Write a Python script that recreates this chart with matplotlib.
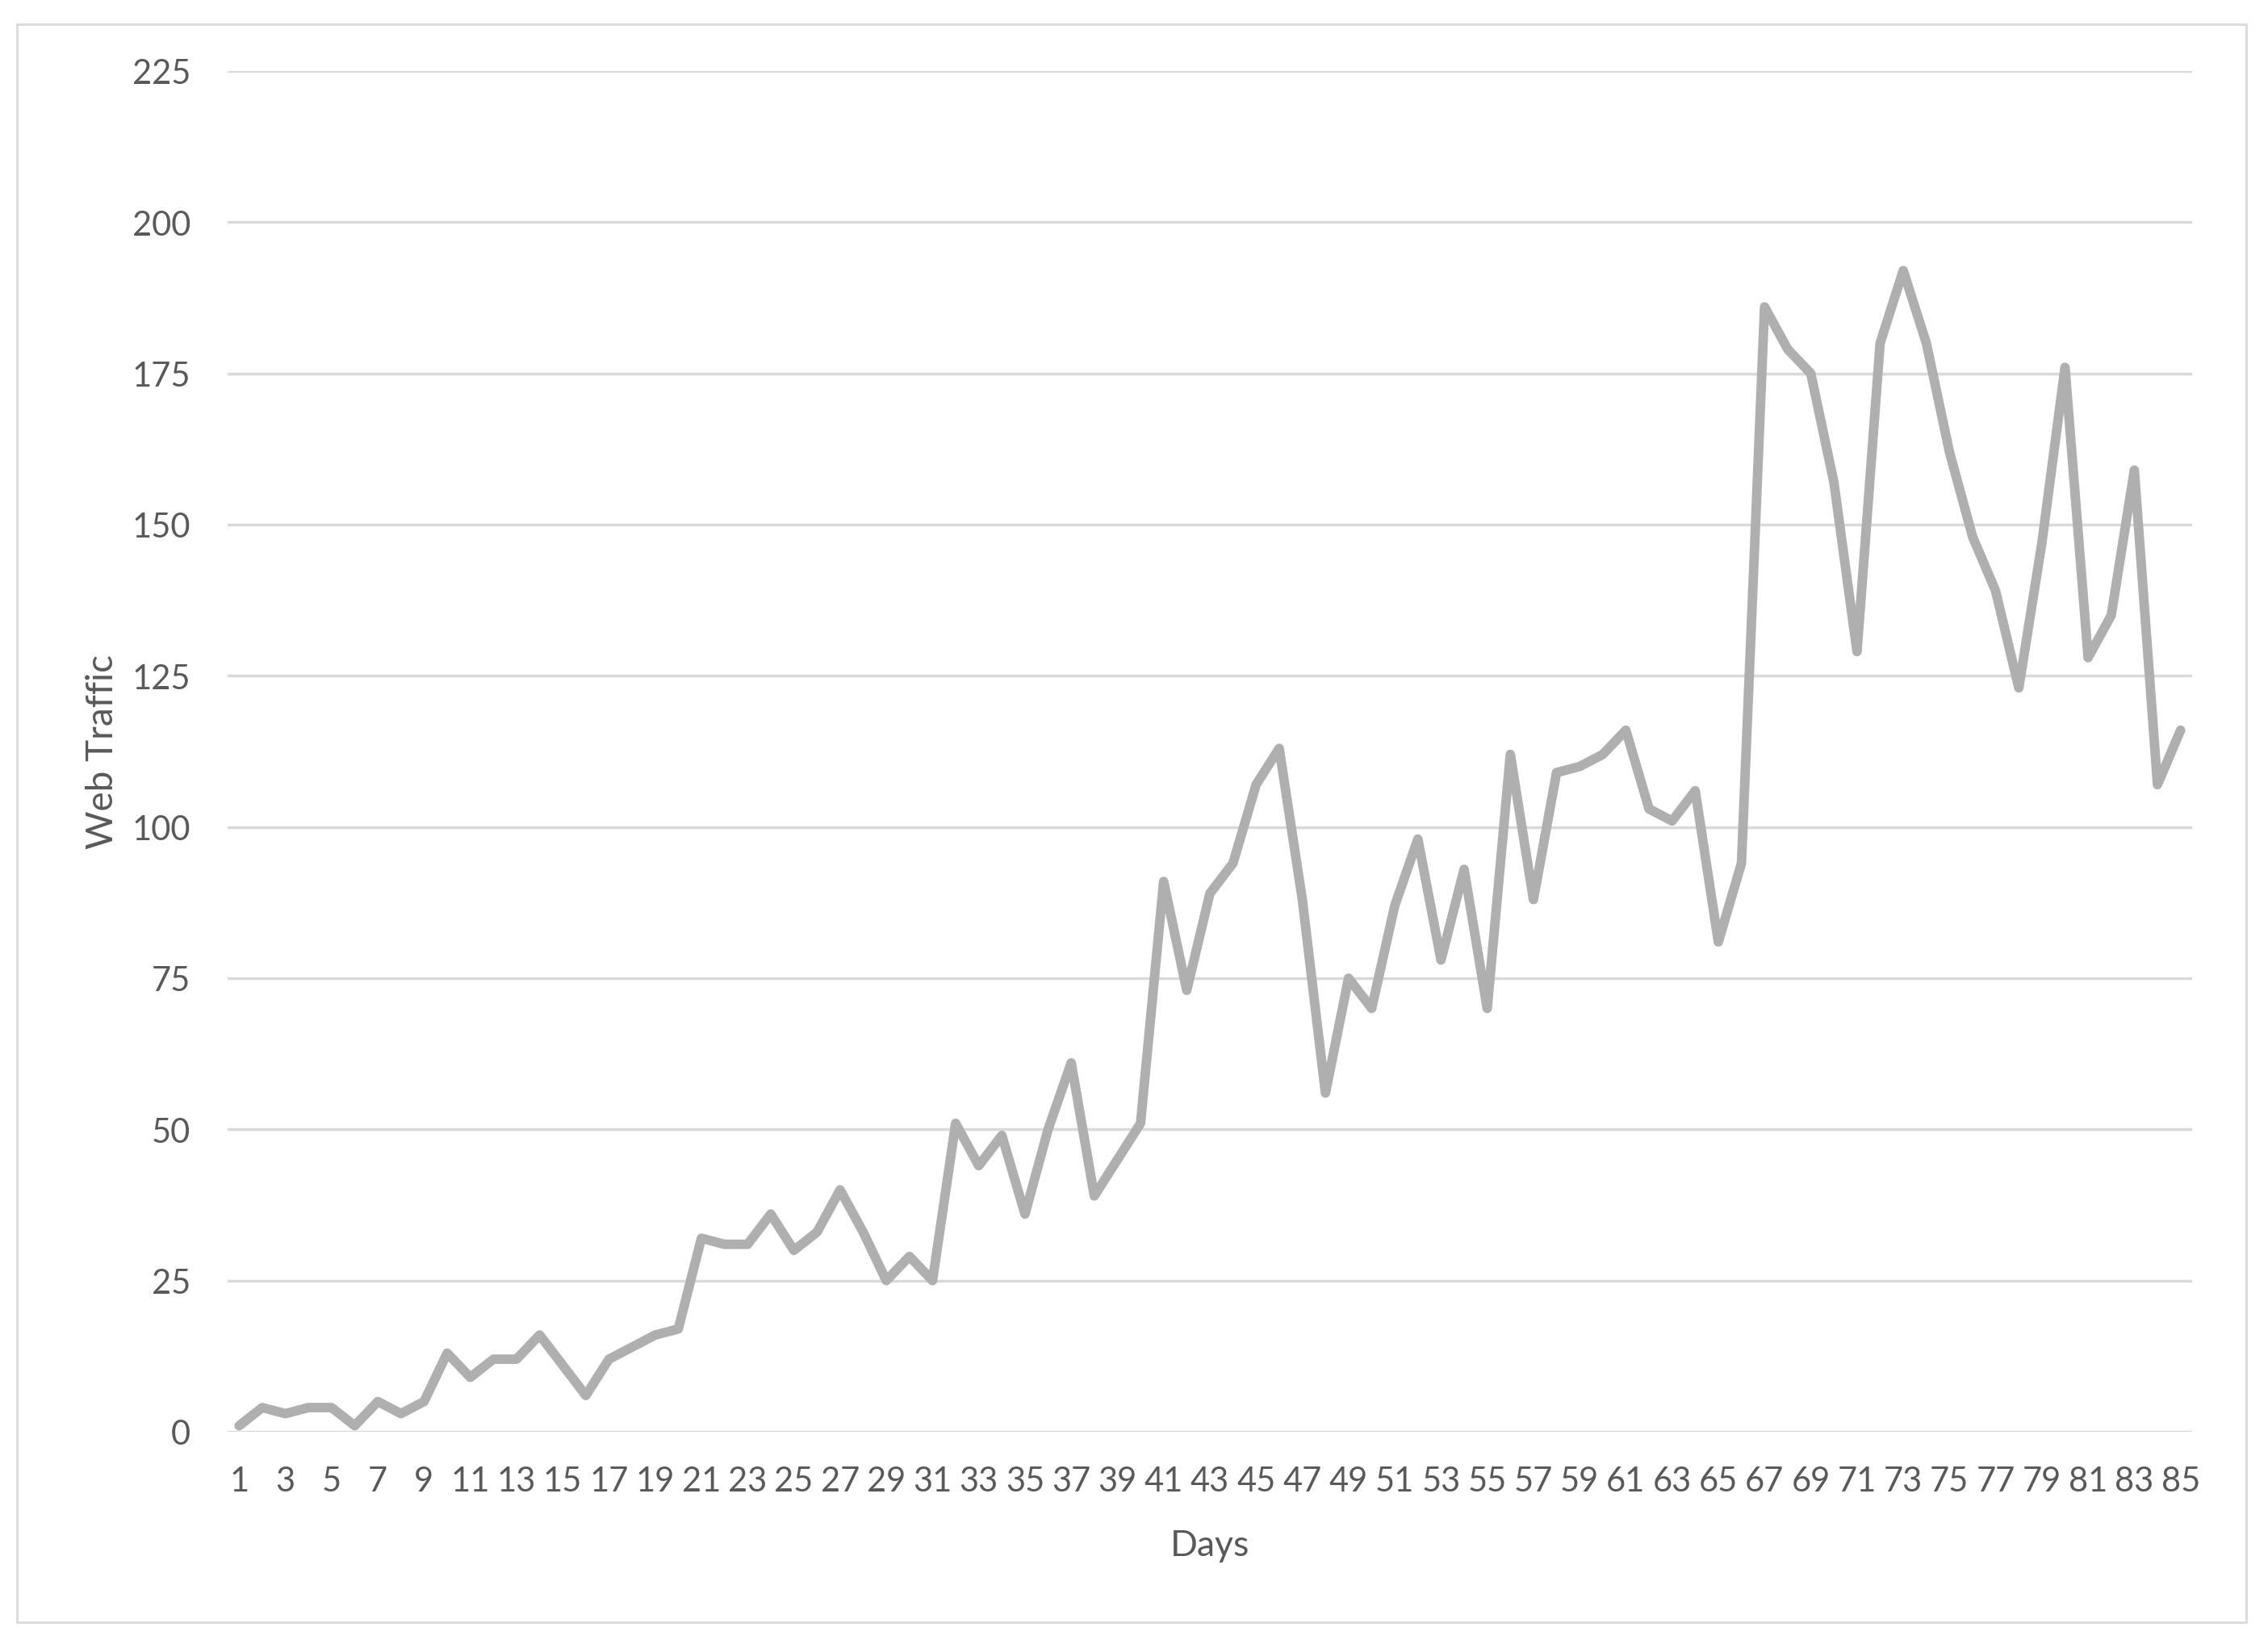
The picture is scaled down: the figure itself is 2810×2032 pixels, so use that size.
import matplotlib
matplotlib.use("Agg")
import matplotlib.pyplot as plt
from matplotlib.patches import Rectangle

days = list(range(1, 86))
traffic = [1, 4, 3, 4, 4, 1, 5, 3, 5, 13,
           9, 12, 12, 16, 11, 6, 12, 14, 16, 17,
           32, 31, 31, 36, 30, 33, 40, 33, 25, 29,
           25, 51, 44, 49, 36, 50, 61, 39, 45, 51,
           91, 73, 89, 94, 107, 113, 88, 56, 75, 70,
           87, 98, 78, 93, 70, 112, 88, 109, 110, 112,
           116, 103, 101, 106, 81, 94, 186, 179, 175, 157,
           129, 180, 192, 180, 162, 148, 139, 123, 147, 176,
           128, 135, 159, 107, 116]
y_ticks = [0, 25, 50, 75, 100, 125, 150, 175, 200, 225]
x_tick_labels = [str(d) for d in days if d % 2 == 1]
x_label = "Days"
y_label = "Web Traffic"

plt.rcParams['font.family'] = ['Lato', 'DejaVu Sans']
text_color = "#595959"

W, H = 2810, 2033
fig = plt.figure(figsize=(W / 100, H / 100), dpi=100)
fig.patches.append(Rectangle((21 / W, 1 - 2011 / H), (2783 - 21) / W, (2011 - 31) / H,
                             transform=fig.transFigure, fill=False,
                             edgecolor="#D9D9D9", linewidth=2))

ax = fig.add_axes([282 / W, 1 - 1775 / H, (2716 - 282) / W, (1775 - 89) / H])
ax.plot(days, traffic, color="#AFAFAF", linewidth=8.5, solid_joinstyle="round",
        solid_capstyle="round", zorder=3)

ax.set_xlim(0.5, 85.5)
ax.set_ylim(0, 225)
ax.set_yticks(y_ticks)
ax.set_xticks([d for d in days if d % 2 == 1])
ax.set_xticklabels(x_tick_labels)
ax.yaxis.grid(True, color="#D9D9D9", linewidth=2.5)
ax.set_axisbelow(True)
for s in ax.spines.values():
    s.set_visible(False)
ax.tick_params(axis="both", length=0, labelsize=30, colors=text_color)
ax.tick_params(axis="y", pad=33)
ax.tick_params(axis="x", pad=30)
ax.set_xlabel(x_label, fontsize=32, color=text_color, labelpad=29)
ax.set_ylabel(y_label, fontsize=33, color=text_color, labelpad=11)

fig.savefig("out.png", dpi=100, facecolor="white")
